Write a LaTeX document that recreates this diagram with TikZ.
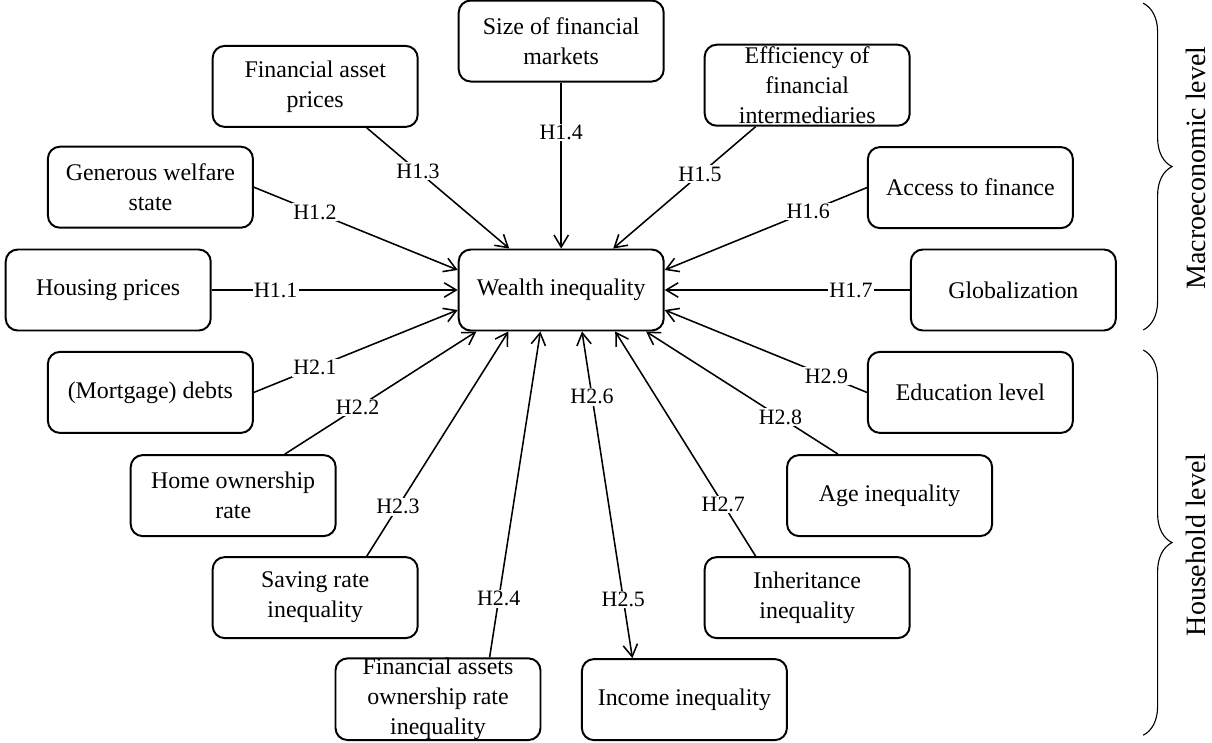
\documentclass[tikz,border=0pt]{standalone}
\usepackage{fontspec}
\setmainfont{Liberation Serif}
\usetikzlibrary{arrows.meta,positioning,decorations.pathreplacing}

\begin{document}
\begin{tikzpicture}[
  box/.style={draw,rounded corners=3mm,line width=1.4pt,minimum width=5.125cm,
    minimum height=2.025cm,inner ysep=0pt,align=center,
    font=\fontsize{17}{21.3}\selectfont},
  hyp/.style={fill=white,inner sep=1pt,font=\fontsize{15.6}{18}\selectfont},
  arr/.style={-{Straight Barb[length=3mm,width=3.6mm]},line width=1.1pt},
  arrboth/.style={{Straight Barb[length=3mm,width=3.6mm]}-{Straight Barb[length=3mm,width=3.6mm]},line width=1.1pt},
  level/.style={rotate=90,font=\fontsize{19.9}{24}\selectfont}]
  \useasboundingbox (0,0) rectangle (30.3,-18.55);

  % centre
  \node[box] (wealth) at (14.03,-7.25) {Wealth inequality};

  % macroeconomic level
  \node[box,left=6.15cm of wealth] (housing) {Housing prices};
  \node[box,right=6.13cm of wealth] (glob) {Globalization};
  \node[box,above=4.15cm of wealth] (sizefm) {Size of financial\\markets};
  \node[box] (welfare) at (3.76,-4.68) {Generous welfare\\state};
  \node[box] (assetp) at (7.88,-2.16) {Financial asset\\prices};
  \node[box] (effic) at (20.18,-2.13) {Efficiency of\\financial\\intermediaries};
  \node[box] (access) at (24.26,-4.69) {Access to finance};

  % household level
  \node[box] (debts) at (3.76,-9.81) {(Mortgage) debts};
  \node[box] (homeown) at (5.83,-12.39) {Home ownership\\rate};
  \node[box] (saving) at (7.88,-14.94) {Saving rate\\inequality};
  \node[box] (faown) at (10.95,-17.48) {Financial assets\\ownership rate\\inequality};
  \node[box] (income) at (17.11,-17.49) {Income inequality};
  \node[box] (inherit) at (20.18,-14.94) {Inheritance\\inequality};
  \node[box] (age) at (22.24,-12.39) {Age inequality};
  \node[box] (edu) at (24.26,-9.81) {Education level};

  % hypotheses H1
  \draw[arr] (housing.east) -- node[hyp,pos=.26] {H1.1} (wealth.west);
  \draw[arr] (welfare.east) -- node[hyp,pos=.3] {H1.2} ([yshift=.5cm]wealth.west);
  \draw[arr] ([xshift=1.29cm]assetp.south) -- node[hyp,pos=.36] {H1.3} ([xshift=-1.3cm]wealth.north);
  \draw[arr] (sizefm.south) -- node[hyp,pos=.3] {H1.4} (wealth.north);
  \draw[arr] ([xshift=-1.29cm]effic.south) -- node[hyp,pos=.39] {H1.5} ([xshift=1.3cm]wealth.north);
  \draw[arr] (access.west) -- node[hyp,pos=.29] {H1.6} ([yshift=.5cm]wealth.east);
  \draw[arr] (glob.west) -- node[hyp,pos=.24] {H1.7} (wealth.east);

  % hypotheses H2
  \draw[arr] (debts.east) -- node[hyp,pos=.3] {H2.1} ([yshift=-.5cm]wealth.west);
  \draw[arr] ([xshift=1.29cm]homeown.north) -- node[hyp,pos=.38] {H2.2} ([xshift=-2.12cm]wealth.south);
  \draw[arr] ([xshift=1.29cm]saving.north) -- node[hyp,pos=.22] {H2.3} ([xshift=-1.32cm]wealth.south);
  \draw[arr] ([xshift=1.29cm]faown.north) -- node[hyp,pos=.18] {H2.4} ([xshift=-.52cm]wealth.south);
  \draw[arrboth] ([xshift=.52cm]wealth.south)
    -- node[hyp,pos=.2] {H2.6} node[hyp,pos=.82] {H2.5} ([xshift=-1.3cm]income.north);
  \draw[arr] ([xshift=-1.29cm]inherit.north) -- node[hyp,pos=.23] {H2.7} ([xshift=1.35cm]wealth.south);
  \draw[arr] ([xshift=-1.29cm]age.north) -- node[hyp,pos=.3] {H2.8} ([xshift=2.12cm]wealth.south);
  \draw[arr] (edu.west) -- node[hyp,pos=.2] {H2.9} ([yshift=-.5cm]wealth.east);

  % levels
  \coordinate (mtop) at (28.58,-0.08);
  \coordinate (mbot) at (28.58,-8.25);
  \coordinate (htop) at (28.58,-8.75);
  \coordinate (hbot) at (28.58,-18.38);
  \draw[decorate,decoration={brace,amplitude=.72cm},line width=.8pt] (mtop) -- (mbot);
  \draw[decorate,decoration={brace,amplitude=.72cm},line width=.8pt] (htop) -- (hbot);
  \node[level] (macro) at (29.9,-4.2) {Macroeconomic level};
  \node[level] (house) at (29.9,-13.62) {Household level};
\end{tikzpicture}
\end{document}
